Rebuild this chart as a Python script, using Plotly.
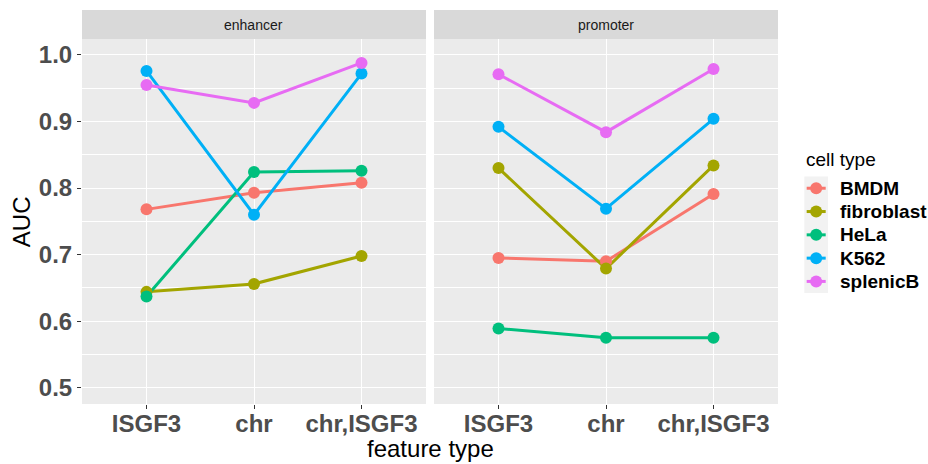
import plotly.graph_objects as go

# AUC by feature type, faceted by region type
feature_types = ["ISGF3", "chr", "chr,ISGF3"]
cell_types = ["BMDM", "fibroblast", "HeLa", "K562", "splenicB"]
colors = ["#F8766D", "#A3A500", "#00BF7D", "#00B0F6", "#E76BF3"]

enhancer_auc = {
    "BMDM":       [0.768, 0.793, 0.808],
    "fibroblast": [0.644, 0.656, 0.698],
    "HeLa":       [0.637, 0.824, 0.826],
    "K562":       [0.976, 0.760, 0.972],
    "splenicB":   [0.955, 0.928, 0.988],
}
promoter_auc = {
    "BMDM":       [0.695, 0.690, 0.791],
    "fibroblast": [0.830, 0.679, 0.834],
    "HeLa":       [0.589, 0.575, 0.575],
    "K562":       [0.892, 0.769, 0.904],
    "splenicB":   [0.971, 0.884, 0.979],
}
facets = [("enhancer", enhancer_auc, "x", "y"), ("promoter", promoter_auc, "x2", "y2")]

FONT = "Liberation Sans, Arial, sans-serif"
W, H = 928, 464
ML, MR, MT, MB = 82.3, 150.3, 39, 59.7
PW, PH = W - ML - MR, H - MT - MB


def px_x(p):
    return (p - ML) / PW


def px_y(p):
    return (H - MB - p) / PH


fig = go.Figure()

# lines first, then points, so every point sits above every line
for _, data, xa, ya in facets:
    for ct, col in zip(cell_types, colors):
        fig.add_trace(go.Scatter(x=feature_types, y=data[ct], mode="lines",
                                 line=dict(color=col, width=3), xaxis=xa, yaxis=ya,
                                 legendgroup=ct, showlegend=False, hoverinfo="skip"))
for _, data, xa, ya in facets:
    for ct, col in zip(cell_types, colors):
        fig.add_trace(go.Scatter(x=feature_types, y=data[ct], mode="markers",
                                 marker=dict(color=col, size=12), xaxis=xa, yaxis=ya,
                                 legendgroup=ct, showlegend=False, name=ct))

yrange = [0.4755, 1.024]
tickfont = dict(family=FONT, size=24, color="#4D4D4D", weight="bold")
common_x = dict(type="category", categoryorder="array", categoryarray=feature_types,
                range=[-0.6, 2.6], showgrid=True, gridcolor="white", gridwidth=1.4,
                ticks="outside", ticklen=4, tickcolor="#333333", tickwidth=1,
                ticklabelstandoff=-6, tickfont=tickfont,
                zeroline=False, showline=False, fixedrange=True)
common_y = dict(range=yrange, tickmode="linear", tick0=0.5, dtick=0.1,
                showgrid=True, gridcolor="white", gridwidth=1.4,
                minor=dict(dtick=0.05, tick0=0.5, showgrid=True, gridcolor="white", gridwidth=0.7),
                zeroline=False, showline=False, fixedrange=True)

x1_dom = [0, px_x(426.0)]
x2_dom = [px_x(434.0), 1]

fig.update_layout(
    width=W, height=H,
    margin=dict(l=ML, r=MR, t=MT, b=MB, autoexpand=False),
    paper_bgcolor="white", plot_bgcolor="#EBEBEB",
    xaxis=dict(domain=x1_dom, anchor="y", **common_x),
    xaxis2=dict(domain=x2_dom, anchor="y2", **common_x),
    yaxis=dict(anchor="x", ticks="outside", ticklen=4, tickcolor="#333333", tickwidth=1,
               tickformat=".1f", tickfont=tickfont, **common_y),
    yaxis2=dict(anchor="x2", matches="y", showticklabels=False, ticks="", **common_y),
    showlegend=False,
)

# facet strips
strip_h = 29 / PH
for (label, _, _, _), dom in zip(facets, [x1_dom, x2_dom]):
    fig.add_shape(type="rect", xref="paper", yref="paper", x0=dom[0], x1=dom[1],
                  y0=1, y1=1 + strip_h, fillcolor="#D9D9D9", line=dict(width=0), layer="below")
    fig.add_annotation(text=label, xref="paper", yref="paper", x=(dom[0] + dom[1]) / 2,
                       y=1 + strip_h / 2, showarrow=False, xanchor="center", yanchor="middle",
                       font=dict(family=FONT, size=14, color="#1A1A1A"))

# legend: title, grey key panel, and one key per cell type
fig.add_annotation(text="cell type", xref="paper", yref="paper", x=px_x(804), y=px_y(160),
                   showarrow=False, xanchor="left", yanchor="middle",
                   font=dict(family=FONT, size=19, color="black"))
key_top, key_h = 176.7, 23.32
key_x0, key_x1 = 804.0, 827.7
key_cx = (key_x0 + key_x1) / 2
fig.add_shape(type="rect", xref="paper", yref="paper", x0=px_x(key_x0), x1=px_x(key_x1),
              y0=px_y(key_top), y1=px_y(key_top + key_h * len(cell_types)),
              fillcolor="#F2F2F2", line=dict(width=0), layer="below")
for i, (ct, col) in enumerate(zip(cell_types, colors)):
    cy = key_top + key_h * (i + 0.5)
    fig.add_shape(type="line", xref="paper", yref="paper", x0=px_x(key_cx - 9.5),
                  x1=px_x(key_cx + 9.5), y0=px_y(cy), y1=px_y(cy),
                  line=dict(color=col, width=3))
    fig.add_shape(type="circle", xref="paper", yref="paper", xsizemode="pixel",
                  ysizemode="pixel", xanchor=px_x(key_cx), yanchor=px_y(cy),
                  x0=-6, x1=6, y0=-6, y1=6, fillcolor=col, line=dict(width=0))
    fig.add_annotation(text=ct, xref="paper", yref="paper", x=px_x(837.5), y=px_y(cy),
                       showarrow=False, xanchor="left", yanchor="middle",
                       font=dict(family=FONT, size=19, color="black", weight="bold"))

# axis titles
fig.add_annotation(text="feature type", xref="paper", yref="paper", x=0.5, y=px_y(449),
                   showarrow=False, xanchor="center", yanchor="middle",
                   font=dict(family=FONT, size=24, color="black"))
fig.add_annotation(text="AUC", xref="paper", yref="paper", x=px_x(22), y=0.5,
                   showarrow=False, xanchor="center", yanchor="middle", textangle=-90,
                   font=dict(family=FONT, size=24, color="black"))

fig.write_html("out.html")
